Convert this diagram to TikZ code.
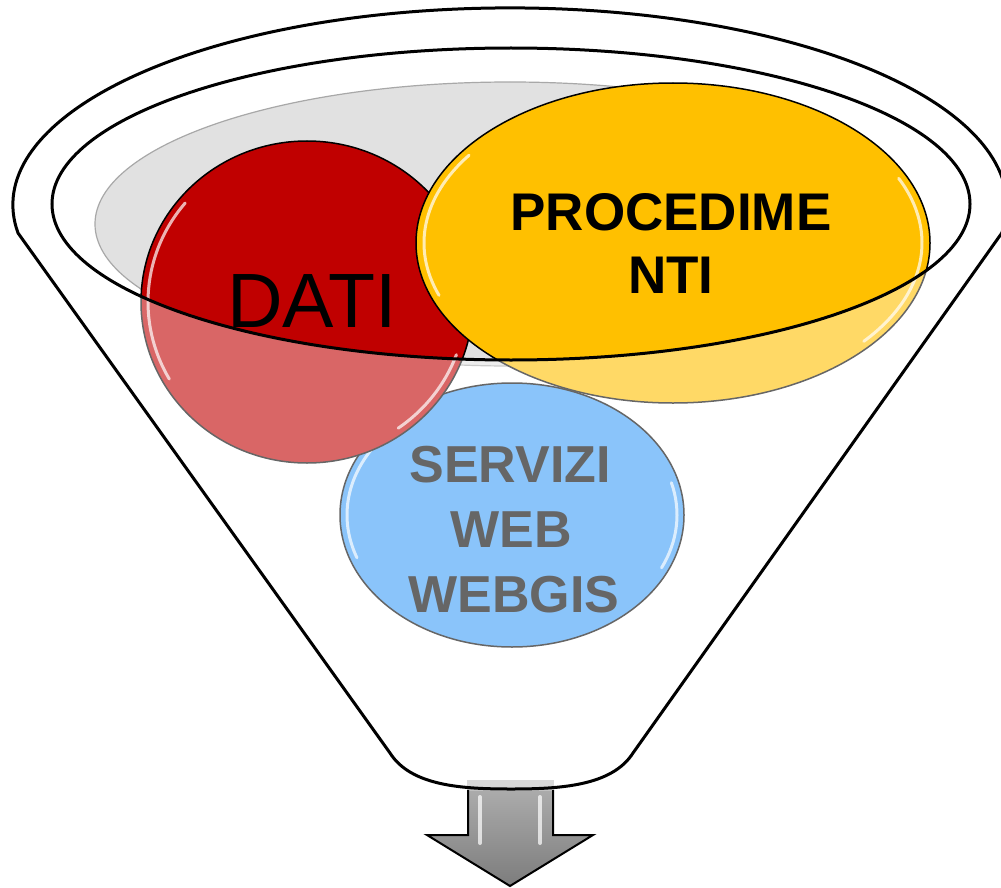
\documentclass[tikz,border=0pt]{standalone}
\usepackage{fontspec}
\setmainfont{Liberation Sans}
\definecolor{rimgray}{HTML}{E1E1E1}
\definecolor{rimedge}{HTML}{A8A8A8}
\definecolor{datired}{HTML}{C00000}
\definecolor{procyellow}{HTML}{FFC000}
\definecolor{webblue}{HTML}{3C9DF7}
\definecolor{arrowgray}{HTML}{8A8A8A}
\newcommand\funnelshape{(18,233) arc[start angle=171.8, end angle=368.2, x radius=497, y radius=197] -- (633,753) .. controls (612,786) and (560,789) .. (511,789) .. controls (462,789) and (411,786) .. (390,753) -- cycle}
\tikzset{
  funnelline/.style={draw=black, line width=3},
  blob/.style={draw=black, line width=1.5},
  gloss/.style={draw=white, line width=3, opacity=0.7, line cap=round},
  bigtxt/.style={font=\fontsize{77}{80}\selectfont, anchor=base, inner sep=0},
  proctxt/.style={font=\bfseries\fontsize{53}{63}\selectfont, anchor=base, inner sep=0},
  webtxt/.style={font=\bfseries\fontsize{52}{63}\selectfont, anchor=base, inner sep=0}
}
\begin{document}
\begin{tikzpicture}[x=1pt,y=-1pt]
\useasboundingbox (0,0) rectangle (1001,888);
\fill[white] (0,0) rectangle (1001,888);
% inner surface of the funnel
\filldraw[fill=rimgray, draw=rimedge, line width=1.2] (510,224) ellipse [x radius=415, y radius=142];
% output arrow
\shade[top color=arrowgray!70!white, bottom color=arrowgray!90!black]
  (468,786) -- (553,786) -- (553,835) -- (593,835) -- (510,886) -- (427,835) -- (468,835) -- cycle;
\fill[arrowgray!55!white] (467,780) rectangle (554,791);
\draw[black, line width=2, line join=miter]
  (468,790) -- (468,835) -- (427,835) -- (510,886) -- (593,835) -- (553,835) -- (553,790);
\draw[gloss, line width=4] (480,797) -- (480,843);
\draw[gloss, line width=4] (540,797) -- (540,843);
% blue circle
\filldraw[blob, fill=webblue] (512,515) ellipse [x radius=172, y radius=132];
\draw[gloss] (512,515) ++(160:165 and 125) arc[start angle=160, end angle=215, x radius=165, y radius=125];
\draw[gloss] (512,515) ++(-15:165 and 125) arc[start angle=-15, end angle=25, x radius=165, y radius=125];
% red circle
\filldraw[blob, fill=datired] (307,302) ellipse [x radius=166, y radius=161];
\draw[gloss] (307,302) ++(150:159 and 154) arc[start angle=150, end angle=220, x radius=159, y radius=154];
\draw[gloss] (307,302) ++(20:159 and 154) arc[start angle=20, end angle=55, x radius=159, y radius=154];
% yellow ellipse
\filldraw[blob, fill=procyellow] (673,243) ellipse [x radius=257, y radius=160];
\draw[gloss] (673,243) ++(160:249 and 153) arc[start angle=160, end angle=215, x radius=249, y radius=153];
\draw[gloss] (673,243) ++(-25:249 and 153) arc[start angle=-25, end angle=40, x radius=249, y radius=153];
% texts
\node[bigtxt] (dati) at (312,327) {DATI};
\node[proctxt] (proc1) at (671,230) {PROCEDIME};
\node[proctxt] (proc2) at (671,293) {NTI};
\node[webtxt] (web1) at (510,482) {SERVIZI};
\node[webtxt] (web2) at (511,547) {WEB};
\node[webtxt] (web3) at (514,612) {WEBGIS};
% translucent front wall of the funnel
\fill[white, opacity=0.4, even odd rule] \funnelshape (511,204) ellipse [x radius=459, y radius=156];
% funnel outlines
\draw[funnelline, line join=round] \funnelshape;
\draw[funnelline] (511,204) ellipse [x radius=459, y radius=156];
\end{tikzpicture}
\end{document}
